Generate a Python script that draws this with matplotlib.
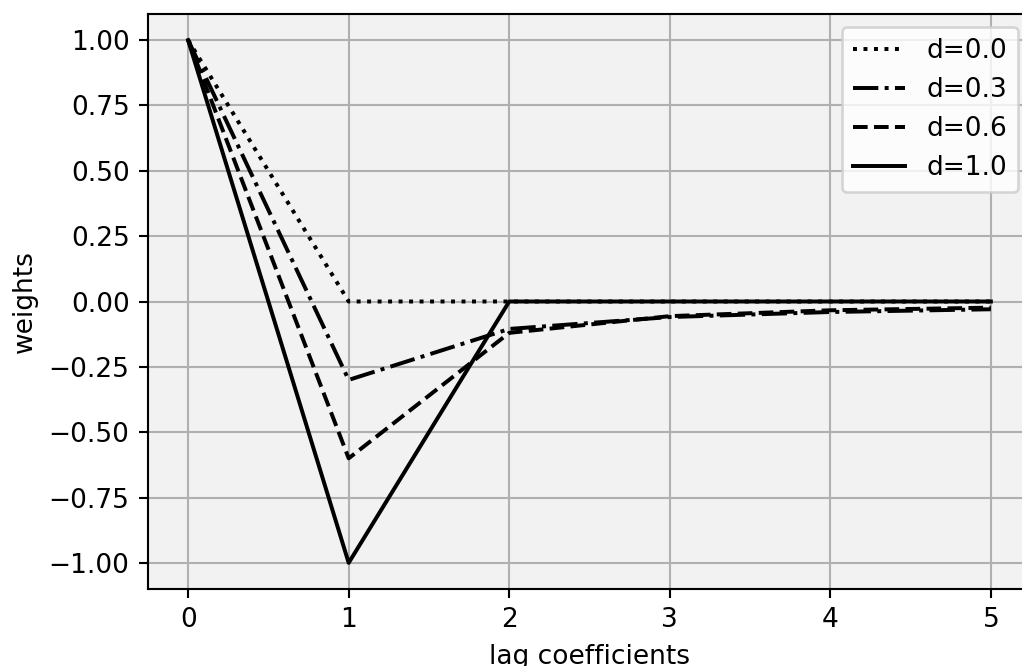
import matplotlib.pyplot as plt

lags = [0, 1, 2, 3, 4, 5]
w_d00 = [1.0, 0.0, 0.0, 0.0, 0.0, 0.0]
w_d03 = [1.0, -0.3, -0.105, -0.0595, -0.0402, -0.0297]
w_d06 = [1.0, -0.6, -0.12, -0.056, -0.0336, -0.0235]
w_d10 = [1.0, -1.0, 0.0, 0.0, 0.0, 0.0]

series = [('d=0.0', w_d00, ':'), ('d=0.3', w_d03, '-.'),
          ('d=0.6', w_d06, '--'), ('d=1.0', w_d10, '-')]

dpi = 190
fig = plt.figure(figsize=(1022/dpi, 666/dpi), dpi=dpi)
# axes runs a bit past the right edge of the canvas
ax = fig.add_axes([148/1022, 77/666, 883/1022, 575/666])
ax.set_facecolor('#f2f2f2')
ax.set_axisbelow(True)
ax.grid(True, color='#b0b0b0', lw=0.8)

for label, w, ls in series:
    ax.plot(lags, w, color='black', ls=ls, lw=1.5, label=label)

ax.set_xlim(-0.25, 5.25)
ax.set_ylim(-1.1, 1.1)
ax.set_yticks([-1.0, -0.75, -0.5, -0.25, 0.0, 0.25, 0.5, 0.75, 1.0])
ax.set_xlabel('lag coefficients')
ax.set_ylabel('weights')
ax.legend(loc='upper right')

fig.savefig('out.png', dpi=dpi)
